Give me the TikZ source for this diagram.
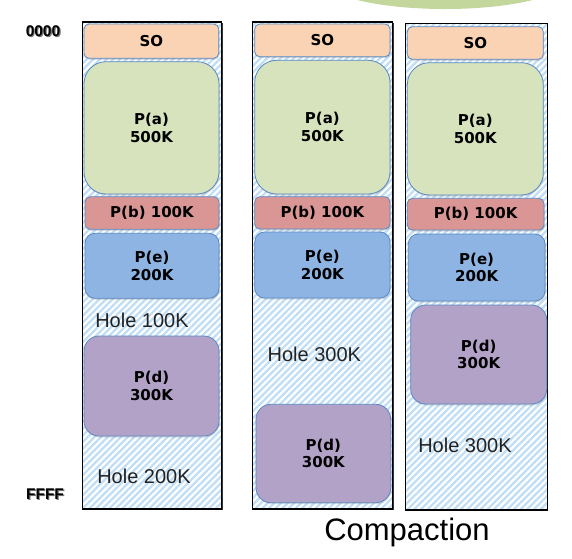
\documentclass[tikz,border=0pt]{standalone}
\usepackage{fontspec}
\setmainfont{Liberation Sans}
\newfontfamily\dvs{DejaVu Sans}
\usetikzlibrary{patterns.meta,shadows}
\definecolor{soC}{HTML}{F9D3B4}
\definecolor{paC}{HTML}{D7E3BD}
\definecolor{pbC}{HTML}{D99694}
\definecolor{peC}{HTML}{8EB4E3}
\definecolor{pdC}{HTML}{B3A2C7}
\definecolor{edgeC}{HTML}{5A88C4}
\definecolor{hatchC}{HTML}{C0DEF5}
\definecolor{topC}{HTML}{C3D69B}
\definecolor{txtC}{HTML}{222222}
\tikzset{
  memshadow/.style={fill=black!80, draw=none, inner sep=0pt},
  memcol/.style={fill=white, inner sep=0pt,
    postaction={pattern={Lines[angle=45,distance=4.7pt,line width=2.3pt]}, pattern color=hatchC},
    postaction={draw=black, line width=1.2pt}},
  proc/.style={draw=edgeC, line width=0.8pt, rounded corners=#1, inner sep=0pt,
    align=center, font=\dvs\bfseries\fontsize{15}{17.5}\selectfont,
    drop shadow={opacity=0.25, shadow xshift=0.8pt, shadow yshift=-1.5pt}},
  holelbl/.style={anchor=base, inner sep=0pt, text=txtC, font=\fontsize{20}{24}\selectfont},
  addr/.style={inner sep=0pt, font=\bfseries\fontsize{15.5}{18}\selectfont},
}
\begin{document}
\begin{tikzpicture}[x=1pt,y=-1pt]
\useasboundingbox (0,0) rectangle (572,558);
\fill[topC] (445,-20) ellipse [x radius=121pt, y radius=29pt];

% address labels
\node[addr, text=black!55] (a0s) at (44.2,32) {0000};
\node[addr] (a0) at (43,31) {0000};
\node[addr, text=black!55] (afs) at (46.2,495) {FFFF};
\node[addr] (af) at (45,494) {FFFF};

% memory columns (shadow, then frame)
\node[memshadow, minimum width=139pt, minimum height=487pt] (col1s) at (153.2,266.6) {};
\node[memshadow, minimum width=140.4pt, minimum height=487pt] (col2s) at (323.5,266.6) {};
\node[memshadow, minimum width=141.6pt, minimum height=486.7pt] (col3s) at (477.5,267.75) {};
\node[memcol, minimum width=139pt, minimum height=487pt] (col1) at (152.2,265.5) {};
\node[memcol, minimum width=140.4pt, minimum height=487pt] (col2) at (322.5,265.5) {};
\node[memcol, minimum width=141.6pt, minimum height=486.7pt] (col3) at (476.5,266.65) {};

% column 1
\node[proc=5pt, fill=soC, minimum width=134.7pt, minimum height=34.3pt] (so1) at (151.35,41.15) {SO};
\node[proc=22pt, fill=paC, minimum width=135pt, minimum height=132.3pt] (pa1) at (151.5,127.85) {P(a)\\500K};
\node[proc=5pt, fill=pbC, minimum width=134pt, minimum height=32.6pt] (pb1) at (152,213) {P(b) 100K};
\node[proc=10pt, fill=peC, minimum width=134pt, minimum height=65pt] (pe1) at (152,265.8) {P(e)\\200K};
\node[proc=15pt, fill=pdC, minimum width=135pt, minimum height=100pt] (pd1) at (151.5,386) {P(d)\\300K};
\node[holelbl] (h1a) at (142,327.3) {Hole 100K};
\node[holelbl] (h1b) at (144,483.3) {Hole 200K};

% column 2
\node[proc=5pt, fill=soC, minimum width=135.3pt, minimum height=32.7pt] (so2) at (322.35,40.35) {SO};
\node[proc=22pt, fill=paC, minimum width=135.3pt, minimum height=133.7pt] (pa2) at (322.35,127.15) {P(a)\\500K};
\node[proc=5pt, fill=pbC, minimum width=135.3pt, minimum height=32.3pt] (pb2) at (322.35,212.85) {P(b) 100K};
\node[proc=10pt, fill=peC, minimum width=135.3pt, minimum height=66pt] (pe2) at (322.35,265) {P(e)\\200K};
\node[proc=15pt, fill=pdC, minimum width=134.7pt, minimum height=98.4pt] (pd2) at (323.35,453.5) {P(d)\\300K};
\node[holelbl] (h2) at (314.3,361) {Hole 300K};

% column 3
\node[proc=5pt, fill=soC, minimum width=136pt, minimum height=32.6pt] (so3) at (475.3,43) {SO};
\node[proc=22pt, fill=paC, minimum width=136pt, minimum height=132.3pt] (pa3) at (475.3,128.85) {P(a)\\500K};
\node[proc=5pt, fill=pbC, minimum width=136.7pt, minimum height=31.7pt] (pb3) at (475.6,214.15) {P(b) 100K};
\node[proc=10pt, fill=peC, minimum width=136.7pt, minimum height=67pt] (pe3) at (476.65,267.5) {P(e)\\200K};
\node[proc=15pt, fill=pdC, minimum width=136pt, minimum height=99pt] (pd3) at (478.7,354.5) {P(d)\\300K};
\node[holelbl] (h3) at (465,452.7) {Hole 300K};

\node[anchor=base, inner sep=0pt, font=\fontsize{31}{36}\selectfont] (cmp) at (407,540.5) {Compaction};
\end{tikzpicture}
\end{document}
